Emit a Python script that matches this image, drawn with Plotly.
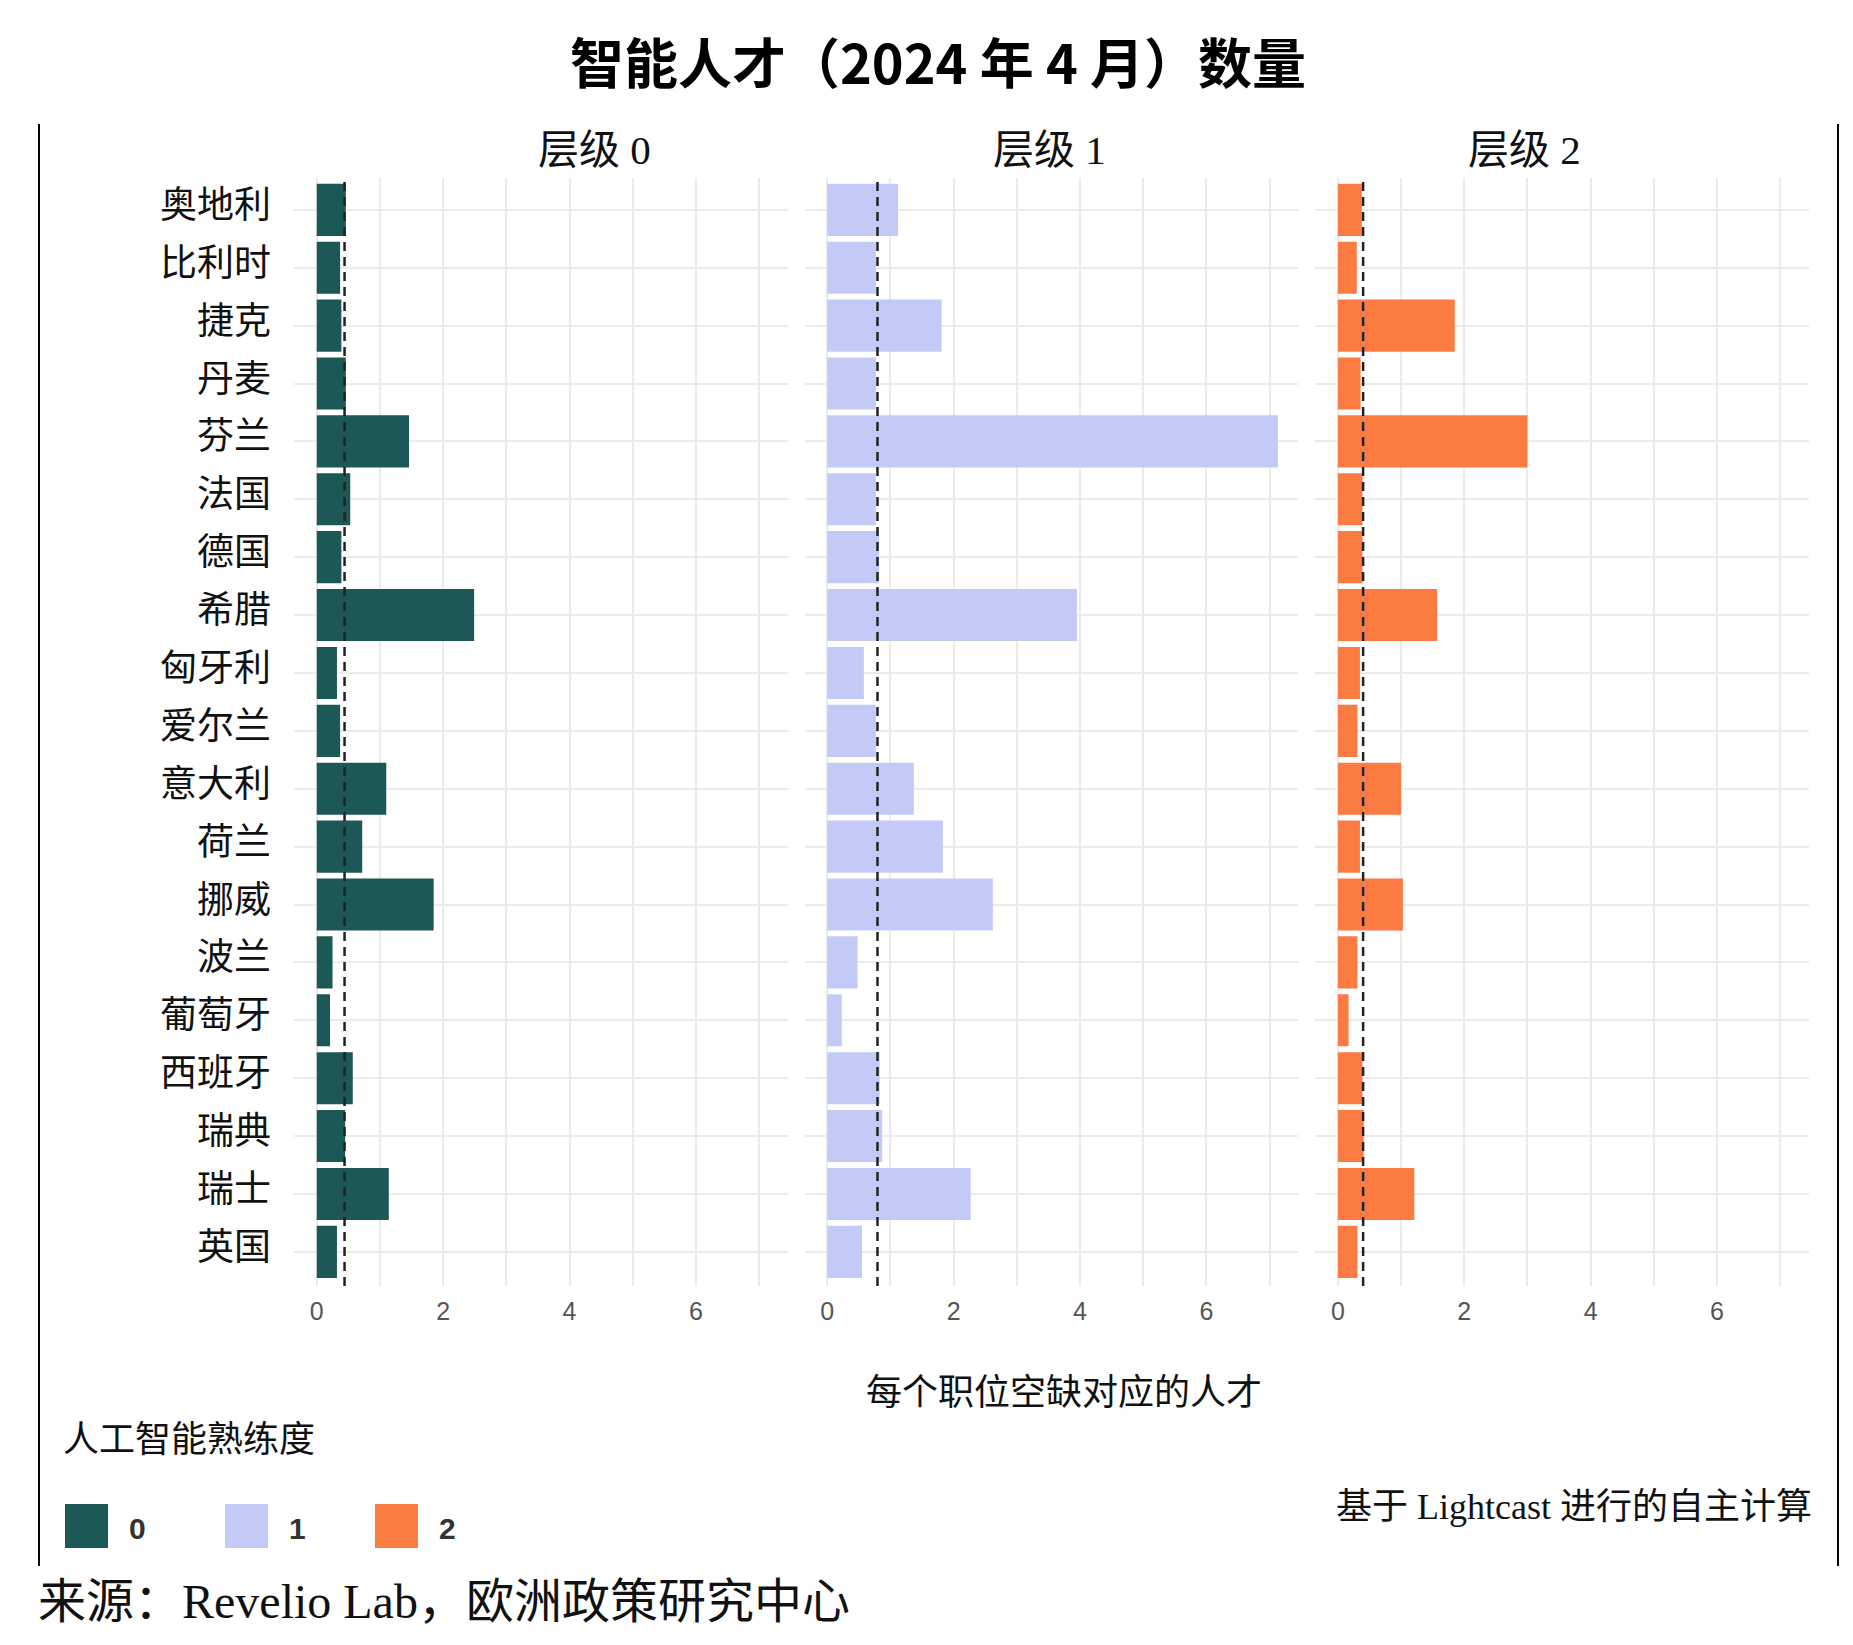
import plotly.graph_objects as go

# ---------------- data ----------------
countries = ["奥地利", "比利时", "捷克", "丹麦", "芬兰", "法国", "德国", "希腊", "匈牙利",
             "爱尔兰", "意大利", "荷兰", "挪威", "波兰", "葡萄牙", "西班牙", "瑞典", "瑞士", "英国"]
level0 = [0.46, 0.37, 0.39, 0.46, 1.46, 0.53, 0.39, 2.49, 0.32, 0.37,
          1.10, 0.72, 1.85, 0.25, 0.21, 0.57, 0.45, 1.14, 0.32]
level1 = [1.12, 0.77, 1.81, 0.77, 7.13, 0.77, 0.82, 3.95, 0.58, 0.77,
          1.37, 1.83, 2.62, 0.48, 0.23, 0.83, 0.87, 2.27, 0.55]
level2 = [0.38, 0.30, 1.85, 0.36, 3.00, 0.39, 0.39, 1.57, 0.35, 0.31,
          1.00, 0.35, 1.03, 0.31, 0.17, 0.39, 0.41, 1.21, 0.31]
averages = [0.44, 0.795, 0.40]
panel_titles = ["层级 0", "层级 1", "层级 2"]
legend_labels = ["0", "1", "2"]
x_ticks = [0, 2, 4, 6]

title_text = "智能人才（2024 年 4 月）数量"
x_title = "每个职位空缺对应的人才"
legend_title = "人工智能熟练度"
source_text = "来源：Revelio Lab，欧洲政策研究中心"
note_text = "基于 Lightcast 进行的自主计算"

# ---------------- style ----------------
W, H = 1853, 1645
colors = ["#1c5855", "#c4caf8", "#fc7b43"]
grid = "#ebebeb"
SERIF = "Liberation Serif, Noto Sans CJK SC, serif"
CJK = "Noto Sans CJK SC, sans-serif"
SANS = "Liberation Sans, Arial, sans-serif"


def fx(px):
    return px / W


def fy(px):
    return 1 - px / H


panel_px = [(294.3, 787.9), (804.8, 1298.4), (1315.4, 1809.0)]
plot_top, plot_bot = 178, 1286
x_range = [-0.355, 7.455]
y_range = [len(countries) - 1 + 0.59, -0.55]

fig = go.Figure()
series = [level0, level1, level2]
for i, vals in enumerate(series):
    sfx = "" if i == 0 else str(i + 1)
    fig.add_trace(go.Bar(
        x=vals, y=countries, orientation="h", width=0.9,
        marker=dict(color=colors[i], line=dict(width=0)),
        xaxis="x" + sfx, yaxis="y" + sfx, showlegend=False,
        hovertemplate="%{y}: %{x}<extra></extra>",
    ))

layout = dict(
    width=W, height=H,
    margin=dict(l=0, r=0, t=0, b=0),
    paper_bgcolor="white", plot_bgcolor="white",
    showlegend=False,
    shapes=[], annotations=[],
)

for i in range(3):
    sfx = "" if i == 0 else str(i + 1)
    x0, x1 = panel_px[i]
    layout["xaxis" + sfx] = dict(
        domain=[fx(x0), fx(x1)], anchor="y" + sfx, range=x_range,
        tickvals=x_ticks, ticktext=[str(t) for t in x_ticks],
        showgrid=True, gridcolor=grid, gridwidth=1.5, zeroline=False,
        minor=dict(tick0=0, dtick=1, showgrid=True, gridcolor=grid, gridwidth=1.5),
        tickfont=dict(family=SANS, size=25, color="#555555"),
        ticks="", showline=False, ticklabelstandoff=8, fixedrange=True,
    )
    layout["yaxis" + sfx] = dict(
        domain=[fy(plot_bot), fy(plot_top)], anchor="x" + sfx,
        type="category", categoryorder="array", categoryarray=countries,
        range=y_range, showgrid=True, gridcolor=grid, gridwidth=1.5,
        zeroline=False, ticks="", showline=False,
        showticklabels=False, fixedrange=True,
    )
    # average dashed line
    layout["shapes"].append(dict(
        type="line", xref="x" + sfx, yref="y" + sfx + " domain",
        x0=averages[i], x1=averages[i], y0=0, y1=1,
        line=dict(color="#222222", width=2.5, dash="9px,6px"), layer="above",
    ))
    # panel title
    title_x = [594, 1049, 1524][i]
    layout["annotations"].append(dict(
        text=panel_titles[i], x=fx(title_x), y=fy(150), xref="paper", yref="paper",
        showarrow=False, xanchor="center", yanchor="middle",
        font=dict(family=SERIF, size=41, color="#111111"),
    ))

# country labels (category axis of first panel)
for c in countries:
    layout["annotations"].append(dict(
        text=c, x=0, y=c, xref="paper", yref="y", xanchor="right", yanchor="middle",
        xshift=273, yshift=8, showarrow=False,
        font=dict(family=CJK, size=37, color="#111111"),
    ))

# main title
layout["annotations"].append(dict(
    text="<b>" + title_text + "</b>", x=fx(938), y=fy(60), xref="paper", yref="paper",
    showarrow=False, xanchor="center", yanchor="middle",
    font=dict(family=CJK, size=54, color="#000000"),
))
# x-axis title
layout["annotations"].append(dict(
    text=x_title, x=fx(1064), y=fy(1389), xref="paper", yref="paper",
    showarrow=False, xanchor="center", yanchor="middle",
    font=dict(family=CJK, size=36, color="#111111"),
))
# legend title
layout["annotations"].append(dict(
    text=legend_title, x=fx(61), y=fy(1436), xref="paper", yref="paper",
    showarrow=False, xanchor="left", yanchor="middle",
    font=dict(family=CJK, size=36, color="#111111"),
))
# legend swatches + labels
sw_x = [65, 225, 375]
for i, lab in enumerate(legend_labels):
    layout["shapes"].append(dict(
        type="rect", xref="paper", yref="paper",
        x0=fx(sw_x[i]), x1=fx(sw_x[i] + 43), y0=fy(1548), y1=fy(1504),
        fillcolor=colors[i], line=dict(width=0),
    ))
    layout["annotations"].append(dict(
        text="<b>" + lab + "</b>", x=fx(sw_x[i] + 62), y=fy(1528), xref="paper", yref="paper",
        showarrow=False, xanchor="left", yanchor="middle",
        font=dict(family=SANS, size=30, color="#333333"),
    ))
# note
layout["annotations"].append(dict(
    text=note_text, x=fx(1814), y=fy(1507), xref="paper", yref="paper",
    showarrow=False, xanchor="right", yanchor="middle",
    font=dict(family=SERIF, size=36, color="#111111"),
))
# source
layout["annotations"].append(dict(
    text=source_text, x=fx(36), y=fy(1601), xref="paper", yref="paper",
    showarrow=False, xanchor="left", yanchor="middle",
    font=dict(family=SERIF, size=48, color="#111111"),
))
# frame lines
for xv in [39, 1838]:
    layout["shapes"].append(dict(
        type="line", xref="paper", yref="paper",
        x0=fx(xv), x1=fx(xv), y0=fy(124), y1=fy(1566),
        line=dict(color="#000000", width=2),
    ))

fig.update_layout(**layout)
fig.write_html("out.html")
